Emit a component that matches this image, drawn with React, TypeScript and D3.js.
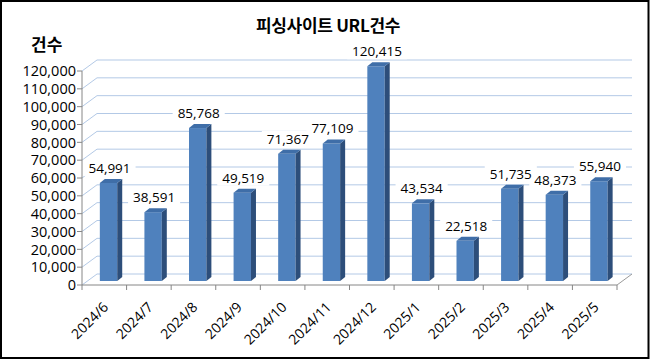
import * as d3 from 'd3';
import React, { useEffect, useRef } from 'react';

const categories = [
  '2024/6', '2024/7', '2024/8', '2024/9', '2024/10', '2024/11',
  '2024/12', '2025/1', '2025/2', '2025/3', '2025/4', '2025/5',
];
const counts = [
  54991, 38591, 85768, 49519, 71367, 77109,
  120415, 43534, 22518, 51735, 48373, 55940,
];
const yTickValues = [
  0, 10000, 20000, 30000, 40000, 50000, 60000,
  70000, 80000, 90000, 100000, 110000, 120000,
];
const chartTitle = '피싱사이트 URL건수';
const yAxisTitle = '건수';

const App: React.FC = () => {
  const svgRef = useRef<SVGSVGElement | null>(null);

  useEffect(() => {
    if (!svgRef.current) return;
    document.body.style.margin = '0';
    const svg = d3.select(svgRef.current);
    svg.selectAll('*').remove();

    // plot area (front plane)
    const plot = { left: 82, right: 617, top: 71, bottom: 285 };
    const wall = { dx: 15, dy: -11 }; // back wall offset
    const barPlaneDy = -4; // bars sit a little behind the front edge
    const side = { dx: 5, dy: -4 }; // bar depth

    const numFont = "'Open Sans', 'Noto Sans', sans-serif";
    const krFont = "'Noto Sans CJK KR', sans-serif";

    const x = d3
      .scaleBand<string>()
      .domain(categories)
      .range([plot.left, plot.right])
      .padding(0);
    const y = d3
      .scaleLinear()
      .domain([0, 120000])
      .range([plot.bottom, plot.top]);
    const bw = x.bandwidth();

    // background + border
    svg
      .append('rect')
      .attr('x', 1)
      .attr('y', 1)
      .attr('width', 647.5)
      .attr('height', 357)
      .attr('fill', '#fff')
      .attr('stroke', '#000')
      .attr('stroke-width', 2);

    // titles
    svg
      .append('text')
      .attr('x', 328)
      .attr('y', 32)
      .attr('text-anchor', 'middle')
      .style('font-family', krFont)
      .style('font-weight', 'bold')
      .style('font-size', '17px')
      .style('letter-spacing', '-0.3px')
      .text(chartTitle);

    svg
      .append('text')
      .attr('x', 31)
      .attr('y', 51)
      .style('font-family', krFont)
      .style('font-weight', 'bold')
      .style('font-size', '17px')
      .text(yAxisTitle);

    // gridlines: left wall diagonal + back wall
    const grid = svg.append('g');
    yTickValues.forEach((t) => {
      const gy = y(t);
      grid
        .append('path')
        .attr(
          'd',
          `M${plot.left},${gy}L${plot.left + wall.dx},${gy + wall.dy}L${plot.right + wall.dx},${gy + wall.dy}`
        )
        .attr('fill', 'none')
        .attr('stroke', '#B3C9E6')
        .attr('stroke-width', 1);
    });

    // floor right edge
    svg
      .append('path')
      .attr(
        'd',
        `M${plot.right},${plot.bottom}L${plot.right + wall.dx},${plot.bottom + wall.dy}`
      )
      .attr('fill', 'none')
      .attr('stroke', '#9A9A9A');

    // axes
    const axisColor = '#868686';
    const yAxisG = svg.append('g');
    yAxisG
      .append('line')
      .attr('x1', plot.left)
      .attr('x2', plot.left)
      .attr('y1', plot.top)
      .attr('y2', plot.bottom)
      .attr('stroke', axisColor);
    yTickValues.forEach((t) => {
      yAxisG
        .append('line')
        .attr('x1', plot.left - 5)
        .attr('x2', plot.left)
        .attr('y1', y(t))
        .attr('y2', y(t))
        .attr('stroke', axisColor);
      yAxisG
        .append('text')
        .attr('x', 76)
        .attr('y', y(t))
        .attr('dy', '0.36em')
        .attr('text-anchor', 'end')
        .style('font-family', numFont)
        .style('font-size', '14.5px')
        .attr('fill', '#000')
        .text(d3.format(',')(t));
    });

    const xAxisG = svg.append('g');
    xAxisG
      .append('line')
      .attr('x1', plot.left)
      .attr('x2', plot.right)
      .attr('y1', plot.bottom)
      .attr('y2', plot.bottom)
      .attr('stroke', axisColor);
    [...categories.map((c) => x(c) as number), plot.right].forEach((tx) => {
      xAxisG
        .append('line')
        .attr('x1', tx)
        .attr('x2', tx)
        .attr('y1', plot.bottom)
        .attr('y2', plot.bottom + 5)
        .attr('stroke', axisColor);
    });
    categories.forEach((c) => {
      const ax = (x(c) as number) + bw / 2 + 5;
      const ay = 308;
      xAxisG
        .append('text')
        .attr('transform', `translate(${ax},${ay}) rotate(-45)`)
        .attr('text-anchor', 'end')
        .style('font-family', numFont)
        .style('font-size', '14px')
        .attr('fill', '#000')
        .text(c);
    });

    // bars
    const bars = svg.append('g');
    const labelBg = svg.append('g');
    const labelText = svg.append('g');
    categories.forEach((c, i) => {
      const v = counts[i];
      const x0 = (x(c) as number) + bw * 0.4;
      const w = bw * 0.39;
      const x1 = x0 + w;
      const yt = y(v) + barPlaneDy;
      const yb = y(0) + barPlaneDy;

      bars
        .append('rect')
        .attr('x', x0)
        .attr('y', yt)
        .attr('width', w)
        .attr('height', yb - yt)
        .attr('fill', '#4F81BD');
      bars
        .append('path')
        .attr(
          'd',
          `M${x1},${yt}L${x1 + side.dx},${yt + side.dy}L${x1 + side.dx},${yb + side.dy}L${x1},${yb}Z`
        )
        .attr('fill', '#2D4E7A');
      bars
        .append('path')
        .attr(
          'd',
          `M${x0},${yt}L${x1},${yt}L${x1 + side.dx},${yt + side.dy}L${x0 + side.dx},${yt + side.dy}Z`
        )
        .attr('fill', '#3F6EA8');

      // data label with white box (boxes drawn under all texts)
      const cx = x0 + w / 2 + 1;
      const cy = yt - 15;
      const bg = labelBg.append('rect').attr('fill', '#fff');
      const txt = labelText
        .append('text')
        .attr('x', cx)
        .attr('y', cy)
        .attr('dy', '0.36em')
        .attr('text-anchor', 'middle')
        .style('font-family', numFont)
        .style('font-size', '13.5px')
        .attr('fill', '#000')
        .text(d3.format(',')(v));
      const tw = (txt.node() as SVGTextElement).getComputedTextLength();
      bg.attr('x', cx - tw / 2 - 5)
        .attr('y', cy - 8)
        .attr('width', tw + 10)
        .attr('height', 16);
    });
  }, []);

  return <svg ref={svgRef} width={650} height={360} style={{ display: 'block' }} />;
};

export default App;
